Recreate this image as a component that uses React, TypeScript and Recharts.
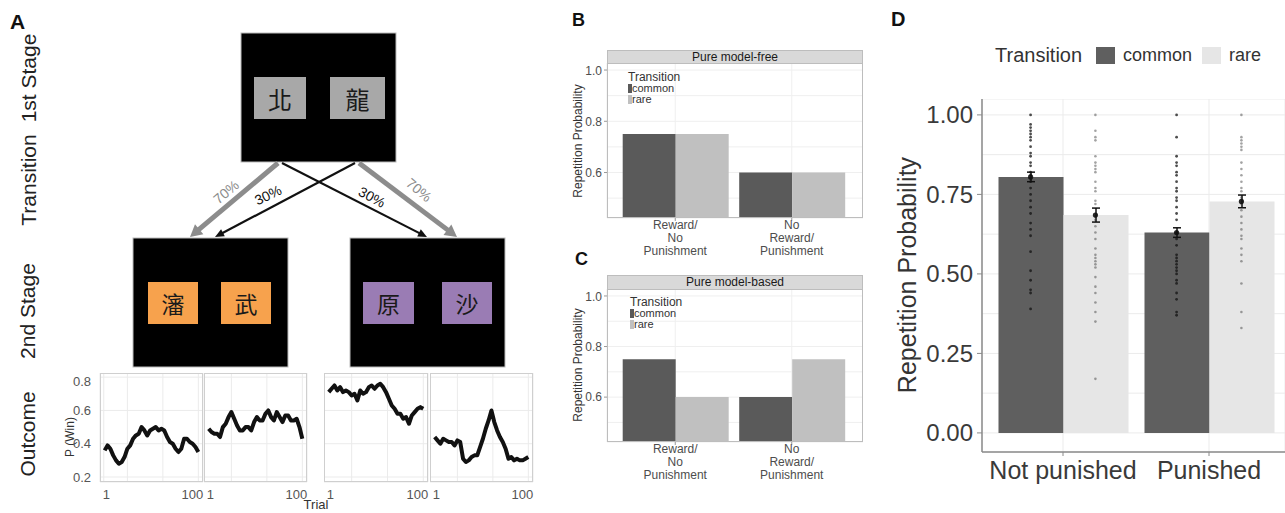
import React from 'react';
import {
  BarChart, Bar, XAxis, YAxis, CartesianGrid, LineChart, Line,
  ScatterChart, Scatter, ErrorBar,
} from 'recharts';

const FONT = '"Liberation Sans", Arial, Helvetica, sans-serif';
const CJK = '"Noto Sans CJK TC", "Noto Sans CJK SC", sans-serif';

// ---------- Panel A: outcome random walks ----------
const trials = [1, 4, 7, 10, 13, 16, 19, 22, 25, 28, 31, 34, 37, 40, 43, 46, 49, 52, 55, 58, 61, 64, 67, 70, 73, 76, 79, 82, 85, 88, 91, 94, 97, 100];
const walk1 = [0.36, 0.39, 0.37, 0.33, 0.30, 0.28, 0.29, 0.32, 0.37, 0.39, 0.43, 0.45, 0.46, 0.50, 0.48, 0.45, 0.48, 0.49, 0.50, 0.48, 0.49, 0.48, 0.44, 0.41, 0.40, 0.37, 0.35, 0.37, 0.43, 0.43, 0.41, 0.40, 0.38, 0.35];
const walk2 = [0.49, 0.47, 0.46, 0.46, 0.44, 0.50, 0.52, 0.56, 0.59, 0.55, 0.51, 0.48, 0.48, 0.50, 0.50, 0.48, 0.53, 0.56, 0.54, 0.54, 0.58, 0.60, 0.56, 0.54, 0.59, 0.56, 0.53, 0.57, 0.57, 0.54, 0.54, 0.55, 0.50, 0.43];
const walk3 = [0.71, 0.73, 0.75, 0.72, 0.74, 0.71, 0.72, 0.71, 0.69, 0.70, 0.66, 0.72, 0.70, 0.71, 0.74, 0.75, 0.73, 0.75, 0.76, 0.74, 0.71, 0.67, 0.63, 0.61, 0.58, 0.58, 0.55, 0.56, 0.52, 0.57, 0.59, 0.61, 0.62, 0.61];
const walk4 = [0.44, 0.42, 0.40, 0.43, 0.42, 0.41, 0.41, 0.39, 0.42, 0.41, 0.31, 0.29, 0.30, 0.32, 0.33, 0.33, 0.38, 0.43, 0.49, 0.54, 0.60, 0.53, 0.48, 0.44, 0.41, 0.37, 0.31, 0.32, 0.30, 0.31, 0.30, 0.30, 0.31, 0.32];
const walkXTicks = [1, 100];
const walkYTicks = [0.2, 0.4, 0.6, 0.8];
const walkGridX = [0, 12.5, 25, 37.5, 50, 62.5, 75, 87.5, 100];
const walkGridY = [0.2, 0.3, 0.4, 0.5, 0.6, 0.7, 0.8];

// ---------- Panels B & C: simulated agents ----------
const bcCategories = ['Reward/\nNo\nPunishment', 'No\nReward/\nPunishment'];
const mfCommon = [0.75, 0.60];
const mfRare = [0.75, 0.60];
const mbCommon = [0.75, 0.60];
const mbRare = [0.60, 0.75];
const bcTicks = [0.6, 0.8, 1.0];
const bcGrid = [0.5, 0.6, 0.7, 0.8, 0.9, 1.0];

// ---------- Panel D: participants ----------
const dGroups = ['Not punished', 'Punished'];
const dCommonMean = [0.805, 0.63];
const dRareMean = [0.685, 0.728];
const dCommonErr = [0.015, 0.015];
const dRareErr = [0.022, 0.02];
const dTicks = [0, 0.25, 0.5, 0.75, 1];
const dGrid = [0, 0.125, 0.25, 0.375, 0.5, 0.625, 0.75, 0.875, 1];
const npCommonPts = [1.0, 0.97, 0.96, 0.95, 0.94, 0.93, 0.92, 0.90, 0.88, 0.87, 0.85, 0.84, 0.82, 0.81, 0.80, 0.79, 0.77, 0.75, 0.73, 0.71, 0.69, 0.66, 0.64, 0.62, 0.57, 0.51, 0.48, 0.45, 0.44, 0.39];
const npRarePts = [1.0, 0.95, 0.93, 0.92, 0.87, 0.85, 0.84, 0.83, 0.82, 0.79, 0.77, 0.76, 0.73, 0.72, 0.68, 0.67, 0.65, 0.63, 0.61, 0.58, 0.56, 0.55, 0.54, 0.53, 0.52, 0.49, 0.46, 0.44, 0.41, 0.38, 0.35, 0.17];
const pCommonPts = [1.0, 0.93, 0.87, 0.85, 0.84, 0.82, 0.81, 0.79, 0.77, 0.76, 0.74, 0.73, 0.71, 0.69, 0.67, 0.63, 0.61, 0.59, 0.56, 0.55, 0.54, 0.53, 0.52, 0.51, 0.50, 0.48, 0.47, 0.44, 0.42, 0.38, 0.37];
const pRarePts = [1.0, 0.93, 0.92, 0.91, 0.90, 0.89, 0.85, 0.83, 0.81, 0.79, 0.77, 0.76, 0.74, 0.72, 0.70, 0.68, 0.66, 0.64, 0.62, 0.61, 0.58, 0.56, 0.54, 0.47, 0.38, 0.33];

const DODGE = 0.222;

const walkData = (vals: number[]) => trials.map((t, i) => ({ t, v: vals[i] }));

function WalkTick(props: any) {
  const { x, y, payload } = props;
  const first = payload.value === walkXTicks[0];
  return (
    <text x={first ? x - 2 : x + 5} y={y} dy="0.71em" textAnchor={first ? 'start' : 'end'} fontSize={13} fill="#555">{payload.value}</text>
  );
}

function WalkChart({ vals, left, width, showY }: { vals: number[]; left: number; width: number; showY: boolean }) {
  const yw = showY ? 40 : 0;
  return (
    <div style={{ position: 'absolute', left, top: 373 }}>
      <LineChart width={width + yw + 6} height={129} data={walkData(vals)} margin={{ top: 0, right: 6, bottom: 0, left: 0 }}>
        <CartesianGrid stroke="#ebebeb" xAxisId="grid" yAxisId="grid" />
        <XAxis xAxisId="grid" dataKey="t" type="number" domain={[-3.95, 104.95]} ticks={walkGridX} allowDataOverflow hide />
        <YAxis yAxisId="grid" type="number" domain={[0.17, 0.825]} ticks={walkGridY} allowDataOverflow hide />
        <XAxis dataKey="t" type="number" domain={[-3.95, 104.95]} ticks={walkXTicks} allowDataOverflow height={20}
          tickLine={false} axisLine={false} tick={<WalkTick />} tickMargin={2} interval={0} />
        <YAxis type="number" domain={[0.17, 0.825]} ticks={walkYTicks} allowDataOverflow width={yw} hide={!showY}
          tickLine={false} axisLine={false} tick={{ fontSize: 13, fill: '#555' }} tickFormatter={(v: number) => v.toFixed(1)} tickMargin={3} />
        <Line dataKey="v" type="linear" stroke="#111" strokeWidth={4} dot={false} isAnimationActive={false} strokeLinejoin="round" />
      </LineChart>
    </div>
  );
}

function MultiTick(props: any) {
  const { x, y, payload } = props;
  const lines = String(payload.value).split('\n');
  return (
    <text x={x} y={y} textAnchor="middle" fontSize={12} fill="#4d4d4d">
      {lines.map((l, i) => <tspan key={i} x={x} dy={i === 0 ? 6 : 13}>{l}</tspan>)}
    </text>
  );
}

function SimChart({ top, plotH, common, rare }: { top: number; plotH: number; common: number[]; rare: number[] }) {
  const data = bcCategories.map((c, i) => ({ cat: c, common: common[i], rare: rare[i] }));
  return (
    <div style={{ position: 'absolute', left: 565, top }}>
      <BarChart width={298} height={plotH + 45} data={data} margin={{ top: 0, right: 0, bottom: 0, left: 0 }} barCategoryGap={5.7} barGap={0}>
        <CartesianGrid stroke="#efefef" yAxisId="grid" />
        <YAxis yAxisId="grid" type="number" domain={[0.4225, 1.0275]} ticks={bcGrid} allowDataOverflow hide />
        <XAxis dataKey="cat" height={45} padding={{ left: 10, right: 13 }} tick={<MultiTick />} tickSize={3} tickMargin={2}
          axisLine={false} tickLine={{ stroke: '#999' }} interval={0} />
        <YAxis type="number" domain={[0.4225, 1.0275]} ticks={bcTicks} width={42} allowDataOverflow tickFormatter={(v: number) => v.toFixed(1)}
          tickSize={3} tickMargin={2} axisLine={false} tickLine={{ stroke: '#999' }} tick={{ fontSize: 12, fill: '#4d4d4d' }} />
        <Bar dataKey="common" fill="#5a5a5a" isAnimationActive={false} />
        <Bar dataKey="rare" fill="#c0c0c0" isAnimationActive={false} />
      </BarChart>
    </div>
  );
}

function SmallLegend({ left, top }: { left: number; top: number }) {
  const row = { height: 11, lineHeight: '11px', fontSize: 11, color: '#333', display: 'flex', alignItems: 'center' } as React.CSSProperties;
  return (
    <div style={{ position: 'absolute', left, top }}>
      <div style={{ ...row, fontSize: 12, height: 12, lineHeight: '12px' }}>Transition</div>
      <div style={row}><span style={{ display: 'inline-block', width: 4, height: 9, background: '#5a5a5a' }} />common</div>
      <div style={row}><span style={{ display: 'inline-block', width: 4, height: 9, background: '#c0c0c0' }} />rare</div>
    </div>
  );
}

function arrow(x1: number, y1: number, x2: number, y2: number, color: string, w: number, hl: number, hw: number, key: string) {
  const dx = x2 - x1, dy = y2 - y1;
  const len = Math.sqrt(dx * dx + dy * dy);
  const ux = dx / len, uy = dy / len;
  const bx = x2 - ux * hl, by = y2 - uy * hl;
  const px = -uy, py = ux;
  const pts = `${x2},${y2} ${bx + px * hw / 2},${by + py * hw / 2} ${bx - px * hw / 2},${by - py * hw / 2}`;
  return (
    <g key={key}>
      <line x1={x1} y1={y1} x2={bx + ux * 1} y2={by + uy * 1} stroke={color} strokeWidth={w} />
      <polygon points={pts} fill={color} />
    </g>
  );
}

const dotShape = (fill: string, r: number, op: number) => (p: any) => <circle cx={p.cx} cy={p.cy} r={r} fill={fill} fillOpacity={op} />;

export default function App() {
  const dData = dGroups.map((g, i) => ({ g, common: dCommonMean[i], rare: dRareMean[i], cErr: dCommonErr[i], rErr: dRareErr[i] }));
  const ptsCommon = [
    ...npCommonPts.map((y) => ({ x: 1 - DODGE, y })),
    ...pCommonPts.map((y) => ({ x: 2 - DODGE, y })),
  ];
  const ptsRare = [
    ...npRarePts.map((y) => ({ x: 1 + DODGE, y })),
    ...pRarePts.map((y) => ({ x: 2 + DODGE, y })),
  ];
  const meanPts = [
    ...dCommonMean.map((y, i) => ({ x: i + 1 - DODGE, y })),
    ...dRareMean.map((y, i) => ({ x: i + 1 + DODGE, y })),
  ];

  return (
    <div style={{ position: 'absolute', left: 0, top: 0, width: 1285, height: 513, background: '#fff', fontFamily: FONT, overflow: 'hidden' }}>
      {/* Panel A diagram */}
      <svg width={1285} height={513} style={{ position: 'absolute', left: 0, top: 0 }}>
        <text x={10} y={29} fontSize={21} fontWeight="bold" fill="#111">A</text>
        <g fontSize={21} fill="#222" textAnchor="middle" dominantBaseline="central">
          <text transform="translate(28,78) rotate(-90)">1st Stage</text>
          <text transform="translate(28,180) rotate(-90)">Transition</text>
          <text transform="translate(27,311) rotate(-90)">2nd Stage</text>
          <text transform="translate(27,434) rotate(-90)">Outcome</text>
        </g>
        <rect x={241} y={33} width={155} height={129} fill="#000" stroke="#bbb" />
        <rect x={254} y={77} width={52} height={42} fill="#a8a8a8" />
        <rect x={330} y={77} width={55} height={42} fill="#a8a8a8" />
        <g fontFamily={CJK} fontSize={24} fill="#1a1a1a" textAnchor="middle" dominantBaseline="central">
          <text x={280} y={98}>北</text>
          <text x={357.5} y={98}>龍</text>
        </g>
        <rect x={133} y={238} width={155} height={129} fill="#000" stroke="#bbb" />
        <rect x={350} y={238} width={155} height={129} fill="#000" stroke="#bbb" />
        <rect x={148} y={282} width={50} height={42} fill="#f7a24d" />
        <rect x={221} y={282} width={50} height={42} fill="#f7a24d" />
        <rect x={363} y={282} width={51} height={42} fill="#9a7cb4" />
        <rect x={442} y={282} width={50} height={42} fill="#9a7cb4" />
        <g fontFamily={CJK} fontSize={23} fill="#1a1a1a" textAnchor="middle" dominantBaseline="central">
          <text x={173} y={303}>瀋</text>
          <text x={246} y={303}>武</text>
          <text x={388.5} y={303}>原</text>
          <text x={467} y={303}>沙</text>
        </g>
        {arrow(278, 163, 190, 237, '#8c8c8c', 5, 12, 13, 'g1')}
        {arrow(359, 163, 457, 237, '#8c8c8c', 5, 12, 13, 'g2')}
        {arrow(282, 163, 427, 237, '#111', 2.2, 9, 8, 'b1')}
        {arrow(355, 163, 215, 237, '#111', 2.2, 9, 8, 'b2')}
        <g fontSize={14} textAnchor="middle" dominantBaseline="central">
          <text transform="translate(226,192) rotate(-40)" fill="#8c8c8c">70%</text>
          <text transform="translate(268,195) rotate(-25)" fill="#111">30%</text>
          <text transform="translate(372,197) rotate(28)" fill="#111">30%</text>
          <text transform="translate(419,190) rotate(40)" fill="#8c8c8c">70%</text>
        </g>
        <text transform="translate(70,437) rotate(-90)" fontSize={12} fill="#333" textAnchor="middle" dominantBaseline="central">P (Win)</text>
        <text x={316} y={509} fontSize={13} fill="#333" textAnchor="middle">Trial</text>
      </svg>

      <WalkChart vals={walk1} left={60} width={103} showY />
      <WalkChart vals={walk2} left={204} width={103} showY={false} />
      <WalkChart vals={walk3} left={324} width={104} showY={false} />
      <WalkChart vals={walk4} left={430} width={103} showY={false} />
      {[100, 204, 324, 430].map((l, i) => (
        <div key={i} style={{ position: 'absolute', left: l, top: 373, width: [103, 103, 104, 103][i], height: 109, border: '1px solid #cfcfcf', boxSizing: 'border-box' }} />
      ))}

      {/* Panel B */}
      <div style={{ position: 'absolute', left: 572, top: 10, fontSize: 18, fontWeight: 'bold', color: '#111' }}>B</div>
      <div style={{ position: 'absolute', left: 607, top: 50, width: 256, height: 14, background: '#d9d9d9', border: '1px solid #bdbdbd', boxSizing: 'border-box', fontSize: 12, lineHeight: '12px', textAlign: 'center', color: '#1a1a1a' }}>Pure model-free</div>
      <SimChart top={63} plotH={155} common={mfCommon} rare={mfRare} />
      <div style={{ position: 'absolute', left: 607, top: 63, width: 256, height: 155, border: '1px solid #bdbdbd', boxSizing: 'border-box' }} />
      <SmallLegend left={628} top={71} />
      <svg width={30} height={200} style={{ position: 'absolute', left: 563, top: 40 }}>
        <text transform="translate(15,101) rotate(-90)" fontSize={12} fill="#333" textAnchor="middle" dominantBaseline="central">Repetition Probability</text>
      </svg>

      {/* Panel C */}
      <div style={{ position: 'absolute', left: 575, top: 249, fontSize: 18, fontWeight: 'bold', color: '#111' }}>C</div>
      <div style={{ position: 'absolute', left: 607, top: 275, width: 256, height: 15, background: '#d9d9d9', border: '1px solid #bdbdbd', boxSizing: 'border-box', fontSize: 12, lineHeight: '13px', textAlign: 'center', color: '#1a1a1a' }}>Pure model-based</div>
      <SimChart top={289} plotH={153} common={mbCommon} rare={mbRare} />
      <div style={{ position: 'absolute', left: 607, top: 289, width: 256, height: 153, border: '1px solid #bdbdbd', boxSizing: 'border-box' }} />
      <SmallLegend left={630} top={296} />
      <svg width={30} height={200} style={{ position: 'absolute', left: 563, top: 265 }}>
        <text transform="translate(15,100) rotate(-90)" fontSize={12} fill="#333" textAnchor="middle" dominantBaseline="central">Repetition Probability</text>
      </svg>

      {/* Panel D */}
      <div style={{ position: 'absolute', left: 891, top: 8, fontSize: 20, fontWeight: 'bold', color: '#111' }}>D</div>
      <div style={{ position: 'absolute', left: 995, top: 42, height: 26, display: 'flex', alignItems: 'center', color: '#333' }}>
        <span style={{ fontSize: 20, marginRight: 14 }}>Transition</span>
        <span style={{ display: 'inline-block', width: 19, height: 17, background: '#5f5f5f', marginRight: 8 }} />
        <span style={{ fontSize: 18, marginRight: 10 }}>common</span>
        <span style={{ display: 'inline-block', width: 19, height: 17, background: '#e6e6e6', marginRight: 8 }} />
        <span style={{ fontSize: 18 }}>rare</span>
      </div>
      <div style={{ position: 'absolute', left: 900, top: 99 }}>
        <BarChart width={385} height={399} data={dData} margin={{ top: 0, right: 0, bottom: 0, left: 0 }} barCategoryGap={8.5} barGap={0}>
          <CartesianGrid stroke="#ebebeb" yAxisId="grid" />
          <YAxis yAxisId="grid" type="number" domain={[-0.06, 1.05]} ticks={dGrid} allowDataOverflow hide />
          <XAxis dataKey="g" height={46} padding={{ left: 8, right: 3 }} tickSize={4} tickMargin={5}
            axisLine={{ stroke: '#8a8a8a', strokeWidth: 1.5 }} tickLine={{ stroke: '#8a8a8a' }} tick={{ fontSize: 25, fill: '#3a3a3a' }} interval={0} />
          <YAxis type="number" domain={[-0.06, 1.05]} ticks={dTicks} tickFormatter={(v: number) => v.toFixed(2)} width={82} tickSize={5} tickMargin={4}
            axisLine={{ stroke: '#8a8a8a', strokeWidth: 1.5 }} tickLine={{ stroke: '#8a8a8a' }} tick={{ fontSize: 24, fill: '#3a3a3a' }} allowDataOverflow />
          <Bar dataKey="common" fill="#5f5f5f" isAnimationActive={false}>
            <ErrorBar dataKey="cErr" width={4} stroke="#111" strokeWidth={1.5} direction="y" />
          </Bar>
          <Bar dataKey="rare" fill="#e6e6e6" isAnimationActive={false}>
            <ErrorBar dataKey="rErr" width={4} stroke="#111" strokeWidth={1.5} direction="y" />
          </Bar>
        </BarChart>
      </div>
      <div style={{ position: 'absolute', left: 900, top: 99, pointerEvents: 'none' }}>
        <ScatterChart width={385} height={399} margin={{ top: 0, right: 0, bottom: 46, left: 82 }}>
          <XAxis type="number" dataKey="x" domain={[0.4452, 2.5205]} hide allowDataOverflow />
          <YAxis type="number" dataKey="y" domain={[-0.06, 1.05]} hide allowDataOverflow />
          <Scatter data={ptsCommon} shape={dotShape('#111', 1.4, 0.75)} isAnimationActive={false} />
          <Scatter data={ptsRare} shape={dotShape('#333', 1.3, 0.45)} isAnimationActive={false} />
          <Scatter data={meanPts} shape={dotShape('#111', 2.6, 0.9)} isAnimationActive={false} />
        </ScatterChart>
      </div>
      <svg width={40} height={320} style={{ position: 'absolute', left: 887, top: 115 }}>
        <text transform="translate(20,160) rotate(-90)" fontSize={25} fill="#333" textAnchor="middle" dominantBaseline="central">Repetition Probability</text>
      </svg>
    </div>
  );
}
